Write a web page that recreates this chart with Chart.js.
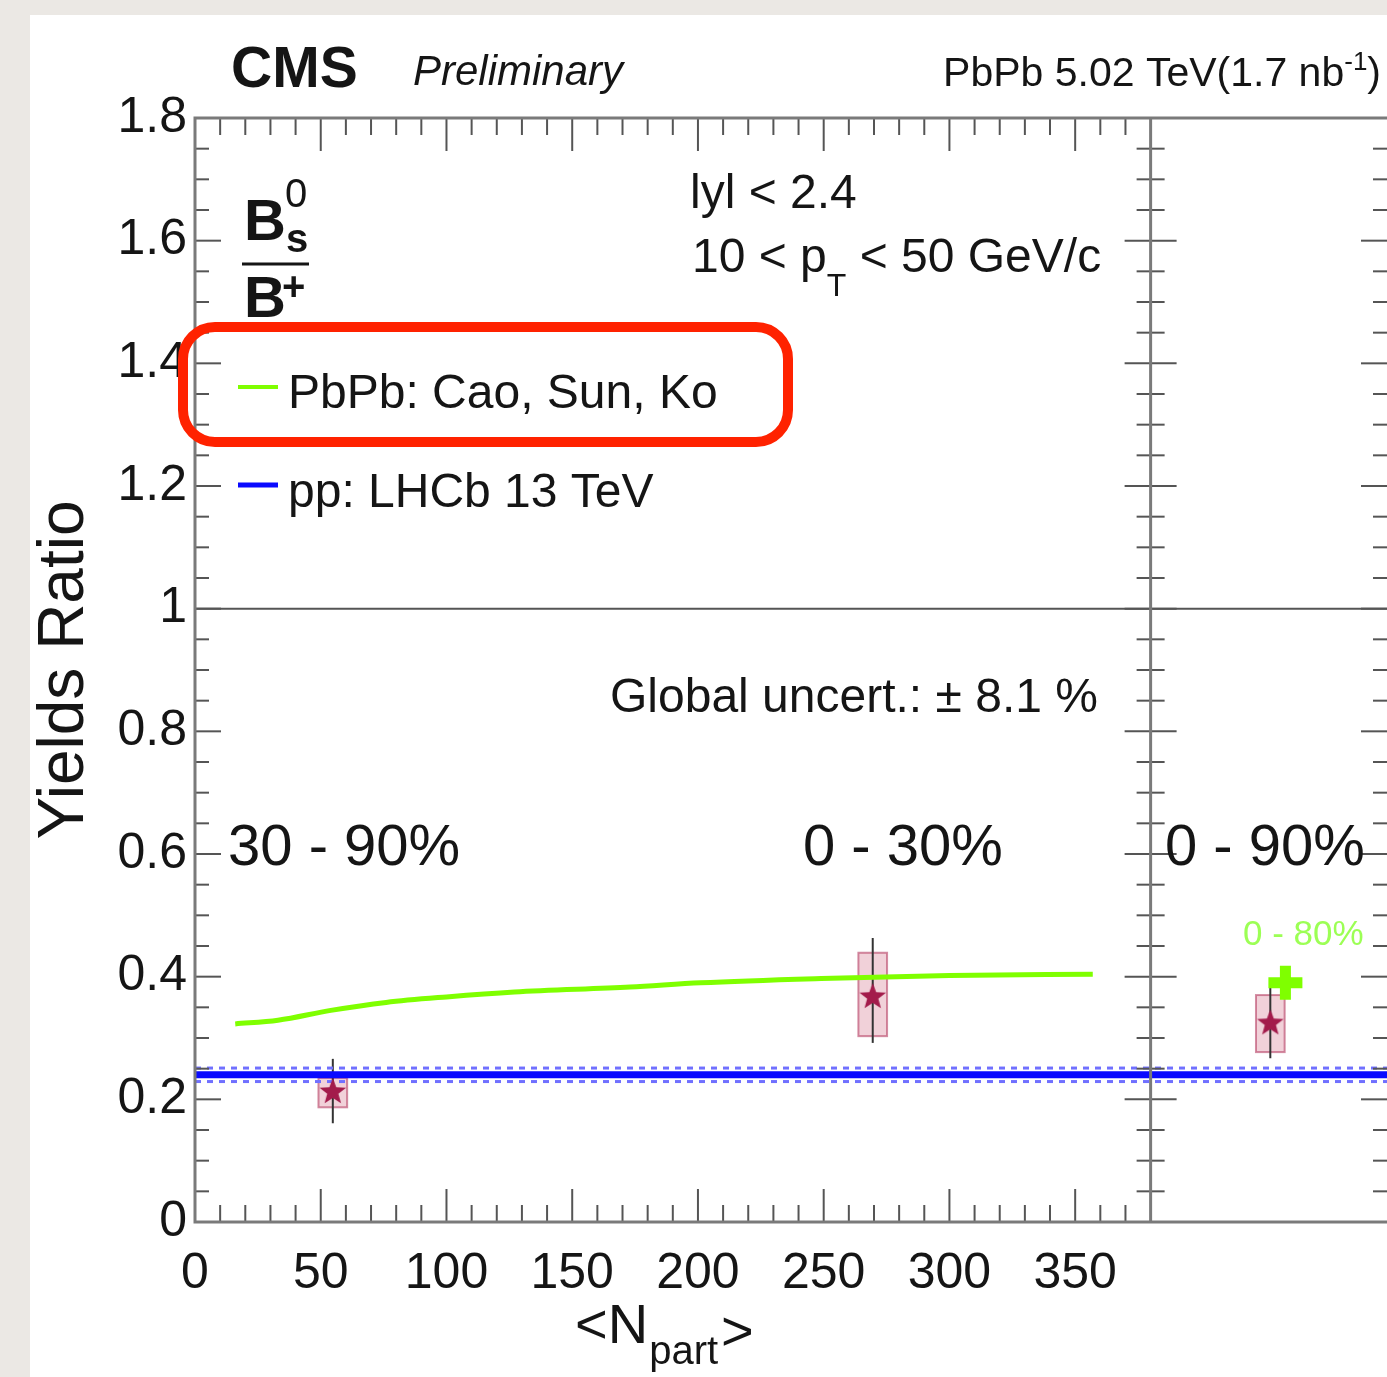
<!DOCTYPE html>
<html>
<head>
<meta charset="utf-8">
<script src="https://cdn.jsdelivr.net/npm/chart.js@4.4.0/dist/chart.umd.min.js"></script>
<style>
  html, body { margin: 0; padding: 0; background: #ebe8e4; }
  #wrap { position: absolute; left: 0; top: 0; width: 1387px; height: 1377px; }
</style>
</head>
<body>
<div id="wrap"><canvas id="chart-area"></canvas></div>
<script>
// model curve (PbPb: Cao, Sun, Ko)
var modelNpart = [16, 33, 54, 76, 100, 127, 173, 201, 249, 300, 357];
var modelRatio = [0.323, 0.329, 0.345, 0.358, 0.367, 0.375, 0.383, 0.390, 0.397, 0.402, 0.404];
// model value for 0-80%
var model080Npart = [433.6];
var model080Ratio = [0.390];
// pp LHCb 13 TeV reference with its band
var ppRatio = 0.240;
var ppBand = 0.011;
var ppRange = [0, 474];
// CMS points (30-90%, 0-30%, 0-90%)
var dataNpart = [54.8, 269.5, 427.6];
var dataRatio = [0.212, 0.367, 0.324];
var statLow = [0.161, 0.292, 0.267];
var statHigh = [0.266, 0.463, 0.382];
var sysLow = [0.187, 0.303, 0.277];
var sysHigh = [0.235, 0.439, 0.370];
// axes
var xTicks = [0, 50, 100, 150, 200, 250, 300, 350];
var xTickLabels = ['0', '50', '100', '150', '200', '250', '300', '350'];
var yTicks = [0, 0.2, 0.4, 0.6, 0.8, 1, 1.2, 1.4, 1.6, 1.8];
var yTickLabels = ['0', '0.2', '0.4', '0.6', '0.8', '1', '1.2', '1.4', '1.6', '1.8'];
var panelEdge = 380;

var FONT = '"Liberation Sans", Arial, Helvetica, sans-serif';
var INK = '#151515';

function makeStar(r, color) {
    var c = document.createElement('canvas');
    c.width = c.height = 2 * r + 2;
    var g = c.getContext('2d');
    g.fillStyle = color;
    g.beginPath();
    for (var i = 0; i < 10; i++) {
        var rad = i % 2 === 0 ? r : r * 0.42;
        var a = -Math.PI / 2 + i * Math.PI / 5;
        var px = r + 1 + rad * Math.cos(a);
        var py = r + 1 + rad * Math.sin(a);
        if (i === 0) g.moveTo(px, py); else g.lineTo(px, py);
    }
    g.closePath();
    g.fill();
    return c;
}

function toPoints(xs, ys) {
    var out = [];
    for (var i = 0; i < xs.length; i++) out.push({ x: xs[i], y: ys[i] });
    return out;
}

function constLine(v) {
    return [{ x: ppRange[0], y: v }, { x: ppRange[1], y: v }];
}

var backgroundPlugin = {
    id: 'paper',
    beforeDraw: function (chart) {
        var ctx = chart.ctx;
        ctx.save();
        ctx.fillStyle = '#ebe8e4';
        ctx.fillRect(0, 0, chart.width, chart.height);
        ctx.fillStyle = '#ffffff';
        ctx.fillRect(30, 15, chart.width - 30, chart.height - 15);
        ctx.restore();
    }
};

// systematic boxes and stat error bars, under the markers
var errorPlugin = {
    id: 'errors',
    beforeDatasetsDraw: function (chart) {
        var ctx = chart.ctx;
        var xs = chart.scales.x, ys = chart.scales.y;
        var halfW = 5.7;
        ctx.save();
        for (var i = 0; i < dataNpart.length; i++) {
            var x0 = xs.getPixelForValue(dataNpart[i] - halfW);
            var x1 = xs.getPixelForValue(dataNpart[i] + halfW);
            var yTop = ys.getPixelForValue(sysHigh[i]);
            var yBot = ys.getPixelForValue(sysLow[i]);
            ctx.fillStyle = 'rgba(205, 90, 120, 0.28)';
            ctx.fillRect(x0, yTop, x1 - x0, yBot - yTop);
            ctx.strokeStyle = 'rgba(175, 45, 85, 0.55)';
            ctx.lineWidth = 2;
            ctx.strokeRect(x0, yTop, x1 - x0, yBot - yTop);
            var xc = xs.getPixelForValue(dataNpart[i]);
            ctx.strokeStyle = '#333';
            ctx.beginPath();
            ctx.moveTo(xc, ys.getPixelForValue(statHigh[i]));
            ctx.lineTo(xc, ys.getPixelForValue(statLow[i]));
            ctx.stroke();
        }
        ctx.restore();
    }
};

function line(ctx, x0, y0, x1, y1) {
    ctx.beginPath();
    ctx.moveTo(x0, y0);
    ctx.lineTo(x1, y1);
    ctx.stroke();
}

// frame, ROOT style inward ticks and all the annotations
var framePlugin = {
    id: 'frame',
    beforeDatasetsDraw: function (chart) {
        var ctx = chart.ctx, a = chart.chartArea;
        var ys = chart.scales.y;
        ctx.save();
        ctx.strokeStyle = '#555';
        ctx.lineWidth = 2;
        var y1 = ys.getPixelForValue(1);
        line(ctx, a.left, y1, a.right, y1);
        ctx.restore();
    },
    afterDraw: function (chart) {
        var ctx = chart.ctx, a = chart.chartArea;
        var xs = chart.scales.x, ys = chart.scales.y;
        var xEdge = xs.getPixelForValue(panelEdge);
        ctx.save();
        // ticks
        ctx.strokeStyle = '#555';
        ctx.lineWidth = 2;
        var v, px, len;
        for (v = 10; v < panelEdge; v += 10) {
            px = xs.getPixelForValue(v);
            len = v % 50 === 0 ? 33 : 17;
            line(ctx, px, a.bottom, px, a.bottom - len);
            line(ctx, px, a.top, px, a.top + len);
        }
        for (var k = 1; k < 36; k++) {
            px = ys.getPixelForValue(k * 0.05);
            len = k % 4 === 0 ? 26 : 14;
            line(ctx, a.left, px, a.left + len, px);
            line(ctx, xEdge - len, px, xEdge + len, px);
            line(ctx, a.right - len, px, a.right, px);
        }
        // frame
        ctx.strokeStyle = '#7a7a7a';
        ctx.lineWidth = 3;
        ctx.strokeRect(a.left, a.top, a.right - a.left + 2, a.bottom - a.top);
        line(ctx, xEdge, a.top, xEdge, a.bottom);

        // header
        ctx.fillStyle = INK;
        ctx.textBaseline = 'alphabetic';
        ctx.textAlign = 'left';
        ctx.font = 'bold 57px ' + FONT;
        ctx.fillText('CMS', 231, 87);
        ctx.font = 'italic 42px ' + FONT;
        ctx.fillText('Preliminary', 413, 85);
        ctx.font = '41px ' + FONT;
        ctx.textAlign = 'right';
        ctx.fillText(')', 1381, 86);
        var wClose = ctx.measureText(')').width;
        ctx.font = '26px ' + FONT;
        ctx.fillText('-1', 1381 - wClose, 70);
        var wSup = ctx.measureText('-1').width;
        ctx.font = '41px ' + FONT;
        ctx.fillText('PbPb 5.02 TeV(1.7 nb', 1381 - wClose - wSup, 86);

        // Bs/B+ fraction
        ctx.textAlign = 'left';
        ctx.font = 'bold 58px ' + FONT;
        ctx.fillText('B', 244, 240);
        ctx.fillText('B', 244, 317);
        ctx.font = '40px ' + FONT;
        ctx.fillText('0', 285, 207);
        ctx.font = 'bold 40px ' + FONT;
        ctx.fillText('s', 286, 252);
        ctx.fillText('+', 282, 300);
        ctx.strokeStyle = INK;
        ctx.lineWidth = 3;
        line(ctx, 242, 264, 309, 264);

        // kinematic cuts
        ctx.font = '48px ' + FONT;
        ctx.fillText('lyl < 2.4', 690, 208);
        var x = 692;
        ctx.fillText('10 < p', x, 272);
        x += ctx.measureText('10 < p').width;
        ctx.font = '32px ' + FONT;
        ctx.fillText('T', x, 296);
        x += ctx.measureText('T').width;
        ctx.font = '48px ' + FONT;
        ctx.fillText(' < 50 GeV/c', x, 272);

        // legend
        var ds = chart.data.datasets;
        var entries = [[ds[0], 408, 387], [ds[1], 507, 485]];
        ctx.font = '48px ' + FONT;
        for (var e = 0; e < entries.length; e++) {
            ctx.strokeStyle = entries[e][0].borderColor;
            ctx.lineWidth = e === 0 ? 4 : 5;
            line(ctx, 238, entries[e][2], 278, entries[e][2]);
            ctx.fillStyle = INK;
            ctx.fillText(entries[e][0].label, 288, entries[e][1]);
        }

        // highlight box
        ctx.strokeStyle = '#ff2200';
        ctx.lineWidth = 10;
        ctx.beginPath();
        ctx.roundRect(183, 327, 605, 115, 32);
        ctx.stroke();

        ctx.fillStyle = INK;
        ctx.font = '48px ' + FONT;
        ctx.fillText('Global uncert.: \u00b1 8.1 %', 610, 712);
        ctx.font = '58px ' + FONT;
        ctx.fillText('30 - 90%', 228, 865);
        ctx.fillText('0 - 30%', 803, 865);
        ctx.fillText('0 - 90%', 1165, 865);
        ctx.fillStyle = '#9cff55';
        ctx.font = '35px ' + FONT;
        ctx.fillText('0 - 80%', 1243, 945);

        // x title
        ctx.fillStyle = INK;
        ctx.font = '56px ' + FONT;
        ctx.fillText('<N', 575, 1343);
        x = 575 + ctx.measureText('<N').width + 1;
        ctx.font = '40px ' + FONT;
        ctx.fillText('part', x, 1364);
        x += ctx.measureText('part').width + 3;
        ctx.font = '56px ' + FONT;
        ctx.fillText('>', x, 1350);
        ctx.restore();
    }
};

var config = {
    type: 'scatter',
    data: {
        datasets: [{
            type: 'line',
            label: 'PbPb: Cao, Sun, Ko',
            data: toPoints(modelNpart, modelRatio),
            borderColor: '#7fff00',
            borderWidth: 5,
            pointRadius: 0,
            cubicInterpolationMode: 'monotone',
            order: 2
        }, {
            type: 'line',
            label: 'pp: LHCb 13 TeV',
            data: constLine(ppRatio),
            borderColor: '#0a0aff',
            borderWidth: 7,
            pointRadius: 0,
            order: 3
        }, {
            type: 'line',
            label: 'pp band up',
            data: constLine(ppRatio + ppBand),
            borderColor: '#7070ff',
            borderWidth: 3,
            borderDash: [6, 6],
            pointRadius: 0,
            order: 4
        }, {
            type: 'line',
            label: 'pp band down',
            data: constLine(ppRatio - ppBand),
            borderColor: '#7070ff',
            borderWidth: 3,
            borderDash: [6, 6],
            pointRadius: 0,
            order: 4
        }, {
            label: 'CMS',
            data: toPoints(dataNpart, dataRatio),
            pointStyle: makeStar(14, '#a31b4b'),
            order: 0
        }, {
            label: 'Cao, Sun, Ko 0-80%',
            data: toPoints(model080Npart, model080Ratio),
            pointStyle: 'cross',
            pointRadius: 17,
            borderColor: '#7fff00',
            borderWidth: 11,
            order: 1
        }]
    },
    options: {
        responsive: true,
        maintainAspectRatio: false,
        animation: false,
        devicePixelRatio: 1,
        layout: { autoPadding: false, padding: { left: 27, top: 118, right: 0, bottom: 0 } },
        plugins: { legend: { display: false }, tooltip: { enabled: false } },
        scales: {
            x: {
                type: 'linear',
                min: 0,
                max: 474,
                grid: { display: false, drawTicks: false },
                border: { display: false },
                ticks: {
                    autoSkip: false,
                    maxRotation: 0,
                    padding: 22,
                    color: INK,
                    font: { family: FONT, size: 50 },
                    callback: function (value, index) { return xTickLabels[index]; }
                },
                afterBuildTicks: function (scale) {
                    scale.ticks = xTicks.map(function (v) { return { value: v }; });
                },
                afterFit: function (scale) {
                    scale.height = 155;
                    scale.paddingLeft = 0;
                    scale.paddingRight = 0;
                }
            },
            y: {
                min: 0,
                max: 1.8,
                grid: { display: false, drawTicks: false },
                border: { display: false },
                title: {
                    display: true,
                    text: 'Yields Ratio',
                    color: INK,
                    padding: 0,
                    font: { family: FONT, size: 64 }
                },
                ticks: {
                    padding: 8,
                    color: INK,
                    font: { family: FONT, size: 50 },
                    callback: function (value, index) { return yTickLabels[index]; }
                },
                afterBuildTicks: function (scale) {
                    scale.ticks = yTicks.map(function (v) { return { value: v }; });
                },
                afterFit: function (scale) {
                    scale.width = 168;
                    scale.paddingTop = 0;
                    scale.paddingBottom = 0;
                }
            }
        }
    },
    plugins: [backgroundPlugin, errorPlugin, framePlugin]
};

var ctx = document.getElementById('chart-area').getContext('2d');
window.myChart = new Chart(ctx, config);
</script>
</body>
</html>
